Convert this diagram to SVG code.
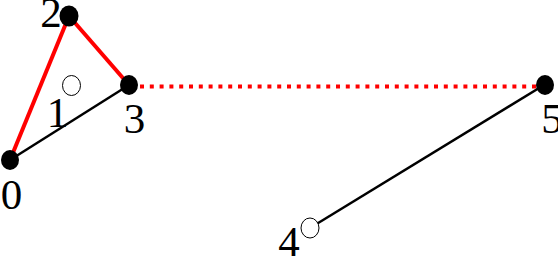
<svg xmlns="http://www.w3.org/2000/svg" width="558" height="258" viewBox="0 0 558 258">
<style>
.lbl{font-family:"Liberation Serif","Times New Roman",serif;font-size:43px;fill:#000;text-anchor:middle}
.full{fill:#000;stroke:none}
.hollow{fill:#fff;stroke:#000;stroke-width:1}
.red{stroke:#ff0000;stroke-width:4;fill:none}
.blk{stroke:#000;stroke-width:2.5;fill:none}
.dot{stroke:#ff0000;stroke-width:4;stroke-dasharray:4 5.8;fill:none}
</style>
<rect width="558" height="258" fill="#fff"/>
<g id="connectors">
<line class="red" x1="10" y1="160" x2="69" y2="16"/>
<line class="red" x1="69" y1="16" x2="129" y2="85"/>
<line class="blk" x1="10" y1="160" x2="129" y2="85"/>
<line class="blk" x1="310" y1="228" x2="544" y2="85"/>
<line class="dot" x1="140" y1="86.5" x2="536" y2="86.5"/>
</g>
<g id="node0"><ellipse class="full" cx="10" cy="160" rx="9" ry="10"/><text class="lbl" x="11.5" y="209">0</text></g>
<g id="node1"><ellipse class="hollow" cx="71.5" cy="85.5" rx="9" ry="10"/><text class="lbl" x="57.5" y="127">1</text></g>
<g id="node2"><ellipse class="full" cx="69" cy="16" rx="9.5" ry="10.5"/><text class="lbl" x="51" y="27">2</text></g>
<g id="node3"><ellipse class="full" cx="129" cy="85" rx="9" ry="10"/><text class="lbl" x="134.5" y="132.5">3</text></g>
<g id="node4"><ellipse class="hollow" cx="310" cy="228" rx="9" ry="10"/><text class="lbl" x="289" y="256">4</text></g>
<g id="node5"><ellipse class="full" cx="545" cy="85" rx="9" ry="10"/><text class="lbl" x="552" y="132.5">5</text></g>
</svg>
